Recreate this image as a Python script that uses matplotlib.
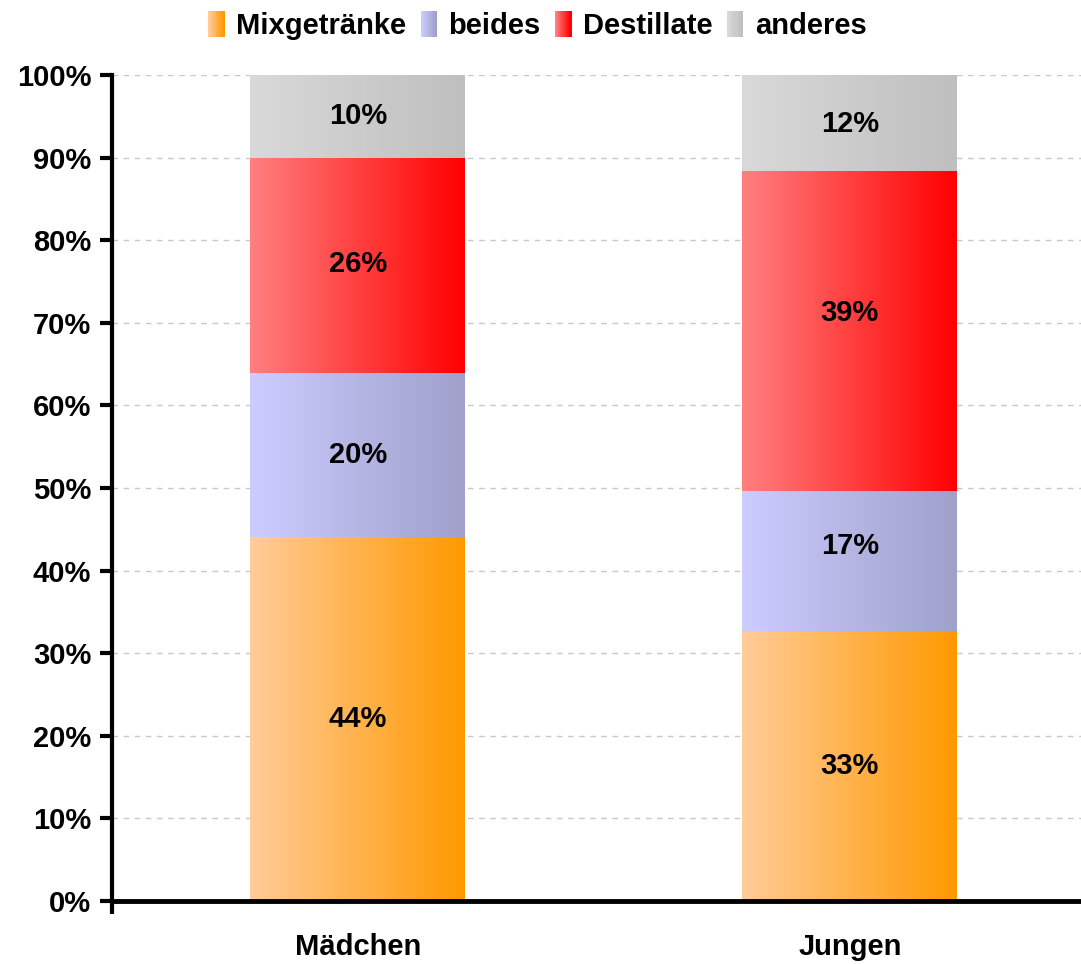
import matplotlib.pyplot as plt
import numpy as np
from matplotlib.colors import LinearSegmentedColormap
from matplotlib.legend_handler import HandlerBase
from matplotlib.patches import Rectangle

plt.rcParams['font.family'] = ['Liberation Sans', 'DejaVu Sans']
plt.rcParams['font.weight'] = 'bold'

groups = ['Mädchen', 'Jungen']
series = ['Mixgetränke', 'beides', 'Destillate', 'anderes']
values = {
    'Mixgetränke': [44.1, 32.7],
    'beides': [19.8, 16.9],
    'Destillate': [26.1, 38.8],
    'anderes': [10.0, 11.6],
}
labels = {
    'Mixgetränke': ['44%', '33%'],
    'beides': ['20%', '17%'],
    'Destillate': ['26%', '39%'],
    'anderes': ['10%', '12%'],
}
# label nudges (points, upward) as in the original
nudge = {
    'Mixgetränke': [0, 0],
    'beides': [0, 11],
    'Destillate': [1, 13],
    'anderes': [0, -1],
}
# left colour -> right colour of each gradient
grads = {
    'Mixgetränke': ('#FFCC99', '#FF9900'),
    'beides': ('#CCCCFF', '#A0A0CB'),
    'Destillate': ('#FF8080', '#FF0000'),
    'anderes': ('#D9D9D9', '#BFBFBF'),
}
cmaps = {k: LinearSegmentedColormap.from_list(k, v) for k, v in grads.items()}
grad_img = np.linspace(0, 1, 256).reshape(1, -1)

fig = plt.figure(figsize=(10.81, 9.64), dpi=100)
ax = fig.add_axes([112 / 1081, 63 / 964, 969 / 1081, 826 / 964])

x = np.arange(len(groups))
bottom = np.zeros(len(groups))
for s in series:
    bars = ax.bar(x, values[s], 0.437, bottom=bottom, color='none', zorder=2)
    for b, lab, dy in zip(bars, labels[s], nudge[s]):
        x0, y0 = b.get_x(), b.get_y()
        ax.imshow(grad_img, cmap=cmaps[s], aspect='auto', zorder=2,
                  extent=(x0, x0 + b.get_width(), y0, y0 + b.get_height()))
        ax.annotate(lab, (x0 + b.get_width() / 2, y0 + b.get_height() / 2),
                    xytext=(0, dy), textcoords='offset points',
                    ha='center', va='center', fontsize=21, fontweight='bold', zorder=3)
    bottom += np.array(values[s])

ax.set_xlim(-0.5, 1.47)
ax.set_ylim(0, 100)
ax.set_yticks(np.arange(0, 101, 10))
ax.set_yticklabels([f'{v}%' for v in range(0, 101, 10)])
ax.set_xticks(x)
ax.set_xticklabels(groups)
ax.set_xticks([-0.5], minor=True)
ax.tick_params(axis='x', which='major', length=0, pad=23, labelsize=21)
ax.tick_params(axis='x', which='minor', length=9, width=3, direction='out')
ax.tick_params(axis='y', length=9, width=3, direction='out', labelsize=21, pad=6)
for t in ax.get_xticklabels() + ax.get_yticklabels():
    t.set_fontweight('bold')

ax.yaxis.grid(True, linestyle=(0, (4, 4)), color='#C8C8C8', linewidth=1, zorder=0)
ax.set_axisbelow(True)
ax.spines['top'].set_visible(False)
ax.spines['right'].set_visible(False)
ax.spines['left'].set_linewidth(3)
ax.spines['bottom'].set_linewidth(3.5)


class GradHandler(HandlerBase):
    def __init__(self, c0, c1):
        super().__init__()
        self.cmap = LinearSegmentedColormap.from_list('h', [c0, c1])

    def create_artists(self, legend, orig, xd, yd, w, h, fontsize, trans):
        n = 10
        out = []
        for i in range(n):
            out.append(Rectangle((xd + w * i / n, yd - 2), w / n + 0.3, h + 4,
                                 facecolor=self.cmap(i / (n - 1)), edgecolor='none',
                                 transform=trans))
        return out


handles = [Rectangle((0, 0), 1, 1) for s in series]
hmap = {h: GradHandler(*grads[s]) for h, s in zip(handles, series)}
leg = fig.legend(handles, series, handler_map=hmap, loc='upper center',
                 bbox_to_anchor=(0.497, 1.015), ncol=4, frameon=False,
                 prop={'size': 21, 'weight': 'bold'}, handlelength=0.55,
                 handleheight=0.7, handletextpad=0.4, columnspacing=0.5)

fig.savefig('out.png', dpi=100)
